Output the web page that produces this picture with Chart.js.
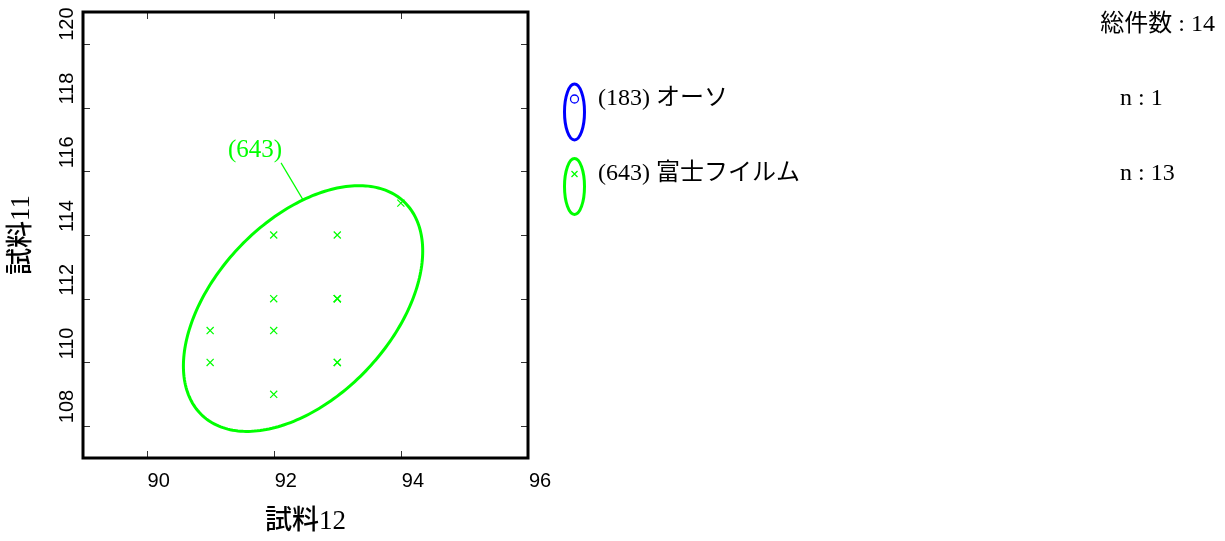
<!DOCTYPE html>
<html lang="ja">
<head>
<meta charset="utf-8">
<title>試料12 × 試料11</title>
<script src="https://cdn.jsdelivr.net/npm/chart.js@4.4.1/dist/chart.umd.min.js"></script>
<style>
  html, body { margin: 0; padding: 0; background: #ffffff; }
  #wrap { position: relative; width: 1225px; height: 541px; }
  canvas { display: block; }
</style>
</head>
<body>
<div id="wrap"><canvas id="chart" width="1225" height="541"></canvas></div>
<script>
// Series labels, lab ids and counts
const seriesNames = ['(183) オーソ', '(643) 富士フイルム'];
const seriesIds = ['(183)', '(643)'];
const seriesCounts = [1, 13];
const totalCount = 14;

// Measured values (試料12 on x, 試料11 on y)
const x183 = [];
const y183 = [];
const x643 = [91, 91, 92, 92, 92, 92, 93, 93, 93, 94, 93, 93, 93];
const y643 = [111, 110, 114, 112, 111, 109, 114, 112, 110, 115, 112, 110, 112];

// Axis ticks and titles
const xTicks = [90, 92, 94, 96];
const yTicks = [108, 110, 112, 114, 116, 118, 120];
const xTitle = '試料12';
const yTitle = '試料11';

const BLUE = '#0000ff';
const GREEN = '#00ff00';
const SERIF = '"Liberation Serif", "Noto Sans CJK JP", serif';
const SANS = '"Liberation Sans", Arial, sans-serif';

// 90% confidence ellipse (chi-square, 2 dof) from sample mean/covariance
const CHI2_90 = 4.605;
function ellipseFrom(xs, ys) {
  const n = xs.length;
  const mx = xs.reduce((a, b) => a + b, 0) / n;
  const my = ys.reduce((a, b) => a + b, 0) / n;
  let sxx = 0, syy = 0, sxy = 0;
  for (let i = 0; i < n; i++) {
    const dx = xs[i] - mx, dy = ys[i] - my;
    sxx += dx * dx; syy += dy * dy; sxy += dx * dy;
  }
  sxx /= (n - 1); syy /= (n - 1); sxy /= (n - 1);
  const sx = Math.sqrt(sxx), sy = Math.sqrt(syy);
  const r = sxy / (sx * sy);
  const k = Math.sqrt(CHI2_90);
  return t => ({
    x: mx + k * sx * Math.cos(t),
    y: my + k * sy * (r * Math.cos(t) + Math.sqrt(1 - r * r) * Math.sin(t))
  });
}

const toPoints = (xs, ys) => xs.map((x, i) => ({ x, y: ys[i] }));

const decorations = {
  id: 'decorations',
  afterDatasetsDraw(chart) {
    const { ctx, scales: { x, y } } = chart;

    // confidence ellipse of the 643 group
    const ell = ellipseFrom(x643, y643);
    ctx.save();
    ctx.strokeStyle = GREEN;
    ctx.lineWidth = 3;
    ctx.beginPath();
    const steps = 240;
    for (let i = 0; i <= steps; i++) {
      const p = ell(i / steps * Math.PI * 2);
      const px = x.getPixelForValue(p.x), py = y.getPixelForValue(p.y);
      if (i === 0) ctx.moveTo(px, py); else ctx.lineTo(px, py);
    }
    ctx.closePath();
    ctx.stroke();

    // leader line and id label
    const anchor = ell(Math.PI / 2);
    const ax = x.getPixelForValue(anchor.x), ay = y.getPixelForValue(anchor.y);
    const ex = ax - 22, ey = ay - 37;
    ctx.lineWidth = 1.2;
    ctx.beginPath();
    ctx.moveTo(ax, ay);
    ctx.lineTo(ex, ey);
    ctx.stroke();
    ctx.fillStyle = GREEN;
    ctx.font = '25px ' + SERIF;
    ctx.textAlign = 'right';
    ctx.textBaseline = 'alphabetic';
    ctx.fillText(seriesIds[1], ex + 1, ey - 6);
    ctx.restore();
  },
  afterDraw(chart) {
    const { ctx, chartArea: a, scales: { x, y } } = chart;
    ctx.save();

    // inward tick marks on all four sides
    ctx.strokeStyle = '#333333';
    ctx.lineWidth = 1;
    const tl = 7;
    ctx.beginPath();
    xTicks.forEach(v => {
      const px = Math.round(x.getPixelForValue(v)) + 0.5;
      ctx.moveTo(px, a.bottom); ctx.lineTo(px, a.bottom - tl);
      ctx.moveTo(px, a.top); ctx.lineTo(px, a.top + tl);
    });
    yTicks.forEach(v => {
      const py = Math.round(y.getPixelForValue(v)) + 0.5;
      ctx.moveTo(a.left, py); ctx.lineTo(a.left + tl, py);
      ctx.moveTo(a.right, py); ctx.lineTo(a.right - tl, py);
    });
    ctx.stroke();

    // plot frame
    ctx.strokeStyle = '#000000';
    ctx.lineWidth = 3;
    ctx.strokeRect(a.left, a.top, a.right - a.left, a.bottom - a.top);

    // tick labels
    ctx.fillStyle = '#000000';
    ctx.font = '20px ' + SANS;
    ctx.textAlign = 'left';
    ctx.textBaseline = 'middle';
    xTicks.forEach(v => {
      ctx.fillText(String(v), x.getPixelForValue(v) + 1, a.bottom + 23);
    });
    yTicks.forEach(v => {
      ctx.save();
      ctx.translate(a.left - 16, y.getPixelForValue(v) - 3);
      ctx.rotate(-Math.PI / 2);
      ctx.fillText(String(v), 0, 0);
      ctx.restore();
    });

    // axis titles
    ctx.font = '500 27px ' + SERIF;
    ctx.textAlign = 'center';
    ctx.textBaseline = 'middle';
    ctx.fillText(xTitle, (a.left + a.right) / 2, 522);
    ctx.save();
    ctx.translate(22, (a.top + a.bottom) / 2);
    ctx.rotate(-Math.PI / 2);
    ctx.fillText(yTitle, 0, 0);
    ctx.restore();

    // legend: small ellipses with the series marker inside
    const legendRows = [
      { color: BLUE, cy: 112, my: 99, marker: 'circle' },
      { color: GREEN, cy: 186.5, my: 174, marker: 'cross' }
    ];
    legendRows.forEach((row, i) => {
      ctx.strokeStyle = row.color;
      ctx.lineWidth = 3;
      ctx.beginPath();
      ctx.ellipse(574.5, row.cy, 10, 28, 0, 0, Math.PI * 2);
      ctx.stroke();
      ctx.lineWidth = 1.3;
      ctx.beginPath();
      if (row.marker === 'circle') {
        ctx.arc(574.5, row.my, 4, 0, Math.PI * 2);
      } else {
        ctx.moveTo(571.5, row.my - 3); ctx.lineTo(577.5, row.my + 3);
        ctx.moveTo(577.5, row.my - 3); ctx.lineTo(571.5, row.my + 3);
      }
      ctx.stroke();

      ctx.fillStyle = '#000000';
      ctx.font = '24px ' + SERIF;
      ctx.textAlign = 'left';
      ctx.textBaseline = 'middle';
      ctx.fillText(seriesNames[i], 598, row.my);
      ctx.fillText('n : ' + seriesCounts[i], 1120, row.my);
    });

    ctx.textAlign = 'right';
    ctx.fillText('総件数 : ' + totalCount, 1215, 25);
    ctx.restore();
  }
};

new Chart(document.getElementById('chart'), {
  type: 'scatter',
  data: {
    datasets: [
      {
        label: seriesNames[0],
        data: toPoints(x183, y183),
        pointStyle: 'circle',
        pointRadius: 4,
        borderColor: BLUE,
        backgroundColor: 'rgba(0,0,0,0)',
        borderWidth: 1.3
      },
      {
        label: seriesNames[1],
        data: toPoints(x643, y643),
        pointStyle: 'crossRot',
        pointRadius: 5,
        borderColor: GREEN,
        backgroundColor: GREEN,
        borderWidth: 1.2
      }
    ]
  },
  options: {
    responsive: false,
    animation: false,
    devicePixelRatio: 1,
    layout: { padding: { left: 83, top: 12, right: 697, bottom: 83 } },
    plugins: { legend: { display: false }, tooltip: { enabled: false } },
    scales: {
      x: { type: 'linear', min: 89, max: 96, display: false },
      y: { type: 'linear', min: 107, max: 121, display: false }
    }
  },
  plugins: [decorations]
});
</script>
</body>
</html>
